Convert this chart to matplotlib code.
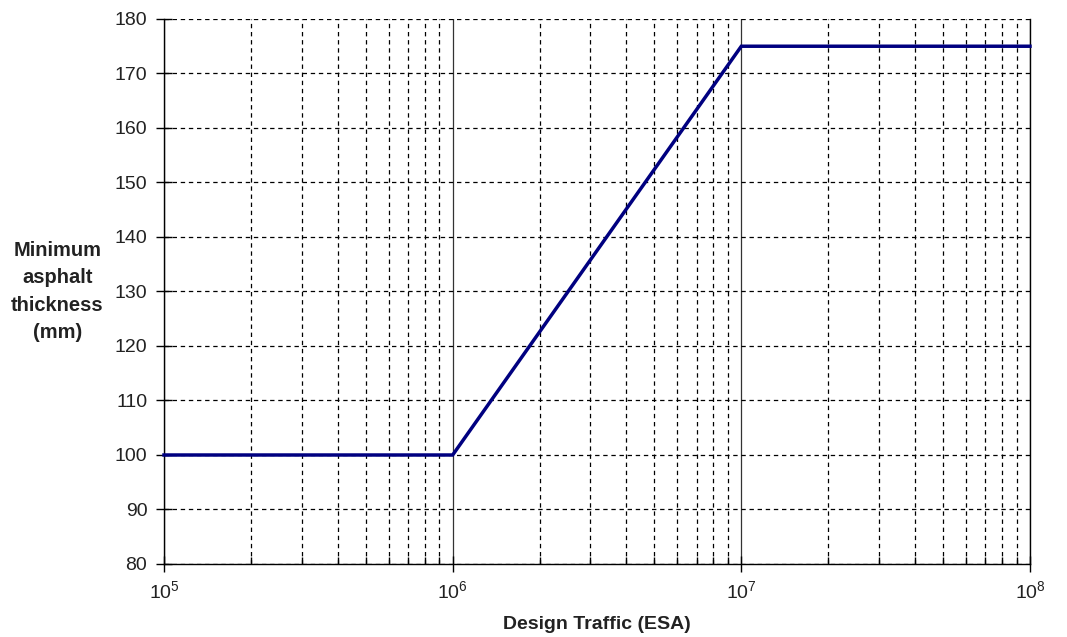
import matplotlib
matplotlib.use('Agg')
import matplotlib.pyplot as plt
import numpy as np

plt.rcParams['font.family'] = ['Liberation Sans', 'DejaVu Sans']
plt.rcParams['mathtext.fontset'] = 'custom'
plt.rcParams['mathtext.rm'] = 'Liberation Sans'
plt.rcParams['mathtext.it'] = 'Liberation Sans'

# data
traffic = [1e5, 1e6, 1e7, 1e8]
thickness = [100, 100, 175, 175]
yTicks = [80, 90, 100, 110, 120, 130, 140, 150, 160, 170, 180]

fig = plt.figure(figsize=(10.67, 6.37), dpi=100)
ax = fig.add_axes([0.1537, 0.1146, 0.9653 - 0.1537, 0.9702 - 0.1146])

ax.plot(traffic, thickness, color='#000080', lw=2.5, solid_joinstyle='miter', zorder=5, clip_on=False)

ax.set_xscale('log')
ax.set_xlim(1e5, 1e8)
ax.set_ylim(80, 180)
ax.set_yticks(yTicks)

ax.grid(which='major', axis='x', color='#333333', ls='-', lw=0.9)
ax.grid(which='minor', axis='x', color='black', ls=(0, (3.5, 3)), lw=0.9)
ax.grid(which='major', axis='y', color='black', ls=(0, (3.5, 3)), lw=0.9)

ax.spines['top'].set_visible(False)
for s in ['left', 'bottom', 'right']:
  ax.spines[s].set_color('black')
  ax.spines[s].set_linewidth(1.0)

ax.tick_params(axis='y', which='major', direction='inout', length=12, width=1, labelsize=14,
               pad=6, labelcolor='#222222')
ax.tick_params(axis='x', which='major', direction='inout', length=12, width=1, labelsize=14,
               pad=6, labelcolor='#222222')
ax.tick_params(axis='x', which='minor', direction='in', length=5, width=1)

ax.set_xlabel('Design Traffic (ESA)', fontsize=14, fontweight='bold', labelpad=10, color='#222222')
ax.set_ylabel('Minimum\nasphalt\nthickness\n(mm)', fontsize=14.5, fontweight='bold',
              rotation=0, ha='center', va='center', linespacing=1.55, color='#222222')
ax.yaxis.set_label_coords(-0.123, 0.5)

fig.savefig('out.png', dpi=100)
